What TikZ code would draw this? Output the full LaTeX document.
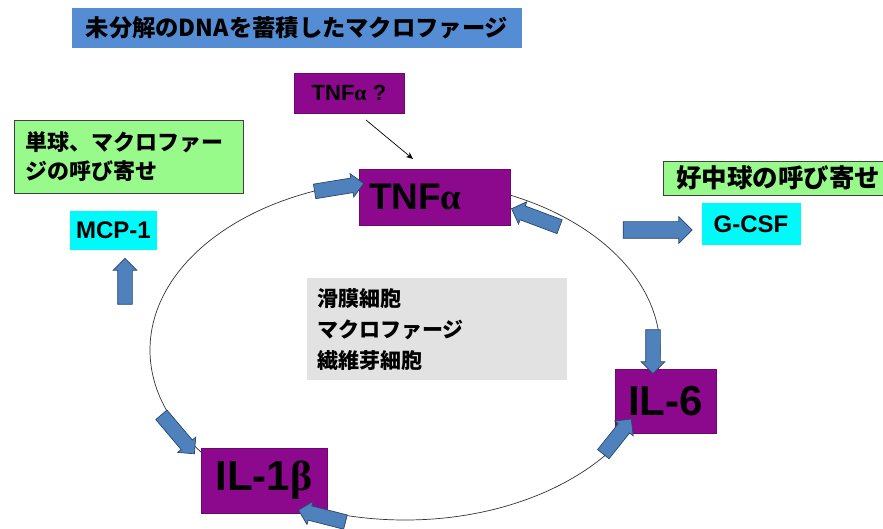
\documentclass[tikz,border=0pt]{standalone}
\usepackage{fontspec}
\setmainfont{Liberation Sans}
\newfontfamily\jp{Noto Sans CJK JP}
\newfontfamily\grk{Liberation Serif}
\usetikzlibrary{shapes.arrows,calc,arrows.meta}
\definecolor{barblue}{RGB}{84,141,212}
\definecolor{boxpurple}{RGB}{140,8,140}
\definecolor{lgreen}{RGB}{153,250,140}
\definecolor{lcyan}{RGB}{0,250,250}
\definecolor{lgray}{RGB}{226,226,226}
\definecolor{arrowblue}{RGB}{79,129,189}
\definecolor{arrowedge}{RGB}{40,70,110}
\tikzset{
  purplebox/.style={fill=boxpurple, draw=boxpurple!80!black, line width=0.4pt, inner sep=0pt, text=black, font=\bfseries},
  cyanbox/.style={fill=lcyan, inner sep=0pt, text=black, font=\bfseries\fontsize{24}{26}\selectfont},
  greenbox/.style={fill=lgreen, draw=black!75, line width=0.6pt, inner sep=0pt, font=\jp\bfseries\fontsize{22}{29}\selectfont},
  barrow/.style={single arrow, draw=arrowedge, fill=arrowblue, line width=0.7pt, inner xsep=0pt, inner ysep=7pt, single arrow head extend=4.5pt, single arrow head indent=0pt},
  bigarrow/.style={inner ysep=8pt, single arrow head extend=5pt},
  cycleline/.style={draw=black!80, line width=0.7pt}
}
\newcommand{\barrowdraw}[3][]{\path let \p1=($(#3)-(#2)$), \n1={atan2(\y1,\x1)}, \n2={veclen(\x1,\y1)} in node[barrow, #1, rotate=\n1, minimum height=\n2] at ($(#2)!0.5!(#3)$) {};}
\begin{document}
\begin{tikzpicture}[x=1pt,y=-1pt]
\useasboundingbox (0,0) rectangle (883,529);
% cycle
\draw[cycleline] (405,350) ellipse [x radius=255pt, y radius=170pt];
% title bar
\node[fill=barblue, minimum width=450pt, minimum height=40pt, inner sep=0pt, font=\jp\bfseries\fontsize{23.3}{26}\selectfont] (title) at (297,28) {未分解のDNAを蓄積したマクロファージ};
% TNF alpha ?
\node[purplebox, minimum width=110pt, minimum height=40pt, font=\bfseries\fontsize{22}{24}\selectfont] (tnfq) at (349,93) {TNF{\grk\bfseries α} ?};
% main purple boxes
\node[purplebox, minimum width=151pt, minimum height=56pt, text width=131pt, inner xsep=10pt, align=left, font=\bfseries\fontsize{37}{40}\selectfont] (tnf) at (434.5,197) {TNF{\grk\bfseries α}};
\node[purplebox, minimum width=101pt, minimum height=64pt, font=\bfseries\fontsize{42}{44}\selectfont] (il6) at (665.5,401) {IL-6};
\node[purplebox, minimum width=126pt, minimum height=65pt, font=\bfseries\fontsize{42}{44}\selectfont] (il1) at (264,480.5) {IL-1{\grk\bfseries β}};
% cyan boxes
\node[cyanbox, minimum width=87pt, minimum height=39pt] (mcp) at (113.5,230.5) {MCP-1};
\node[cyanbox, minimum width=99pt, minimum height=42pt] (gcsf) at (751,224) {G-CSF};
% green boxes
\node[greenbox, anchor=north west, minimum width=229pt, minimum height=73pt, text width=207pt, inner xsep=11pt, align=left] (mono) at (14,120) {単球、マクロファー\\ジの呼び寄せ};
\node[greenbox, anchor=north west, minimum height=34pt, font=\jp\bfseries\fontsize{25.5}{28}\selectfont, inner xsep=13pt, minimum width=240pt, text width=214pt, align=left] (neut) at (663,161) {好中球の呼び寄せ};
% gray box
\node[fill=lgray, anchor=north west, minimum width=260pt, minimum height=102pt, text width=240pt, inner xsep=10pt, align=left, font=\jp\bfseries\fontsize{21}{31}\selectfont] (cells) at (307,278) {滑膜細胞\\マクロファージ\\繊維芽細胞};
% thin arrow
\coordinate (qa) at (366,120);
\coordinate (qb) at (413,159);
\draw[line width=0.7pt, -{Stealth[length=7pt,width=6pt]}] (qa) -- (qb);
% block arrows
\coordinate (b1s) at (311,192); \coordinate (b1e) at (360,184);
\coordinate (b2s) at (563,228); \coordinate (b2e) at (515,210);
\coordinate (b3s) at (653,326); \coordinate (b3e) at (653,370);
\coordinate (b4s) at (601,457); \coordinate (b4e) at (629,422);
\coordinate (b5s) at (349,523); \coordinate (b5e) at (302,511);
\coordinate (b6s) at (159,412); \coordinate (b6e) at (192,451);
\coordinate (b7s) at (125,308); \coordinate (b7e) at (125,262);
\coordinate (b8s) at (619,230); \coordinate (b8e) at (688,230);
\barrowdraw{b1s}{b1e}
\barrowdraw{b2s}{b2e}
\barrowdraw{b3s}{b3e}
\barrowdraw{b4s}{b4e}
\barrowdraw{b5s}{b5e}
\barrowdraw{b6s}{b6e}
\barrowdraw{b7s}{b7e}
\barrowdraw[bigarrow]{b8s}{b8e}
\end{tikzpicture}
\end{document}
